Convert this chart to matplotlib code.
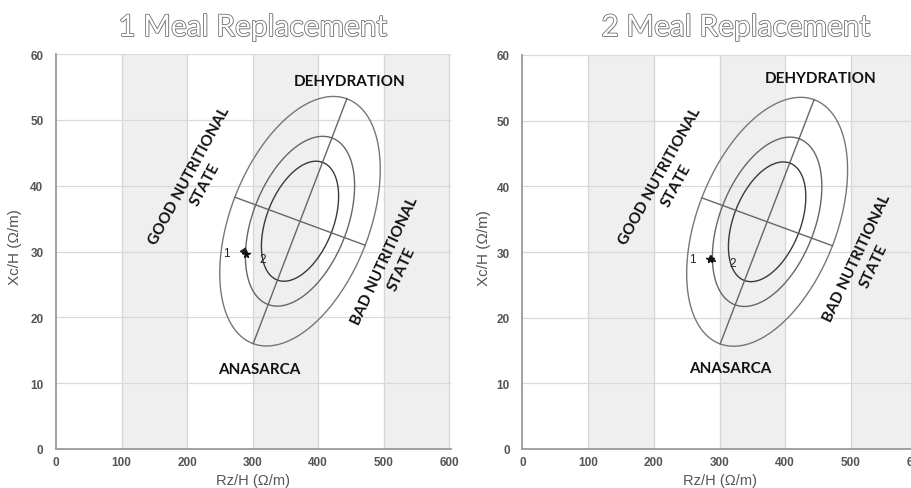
import numpy as np
import matplotlib
matplotlib.use("Agg")
import matplotlib.pyplot as plt
from matplotlib import patheffects as pe

# ---------------- data ----------------
panel_titles = ["1 Meal Replacement", "2 Meal Replacement"]
x_ticks = [0, 100, 200, 300, 400, 500, 600]
y_ticks = [0, 10, 20, 30, 40, 50, 60]
x_label = "Rz/H (\u03a9/m)"
y_label = "Xc/H (\u03a9/m)"

# tolerance ellipses (reference population), data units
ellipse_center = [372.5, 34.6]
major_half = [71.5, 18.6]     # half-diameter along the "hydration" axis (95% ellipse)
minor_half = [99.5, -3.65]    # half-diameter along the "nutrition" axis (95% ellipse)
ellipse_levels = [0.50, 0.75, 0.95]

# patient vectors (point 1 -> point 2)
p1_left = [290.0, 29.6]
p2_left = [292.0, 29.3]
p1_right = [285.4, 29.0]
p2_right = [295.6, 28.5]
point_labels = ["1", "2"]

zone_labels = ["DEHYDRATION", "ANASARCA", "GOOD NUTRITIONAL\nSTATE", "BAD NUTRITIONAL\nSTATE"]

# ---------------- layout ----------------
W, H = 912, 489
fig = plt.figure(figsize=(W / 100, H / 100), dpi=100)
fig.patch.set_facecolor("white")

axes_px = [(56, 450, 395, 395), (522.5, 450, 396, 394)]  # left, bottom(y from top), width, height
xlim = (0, 603)

label_pos = [
    {"DEHYDRATION": (449, 55.9), "ANASARCA": (309.6, 12.2),
     "GOOD": (216, 40.9, 61.5), "BAD": (514.5, 28.0, 65)},
    {"DEHYDRATION": (454, 56.5), "ANASARCA": (315.8, 12.4),
     "GOOD": (221.5, 40.9, 61.0), "BAD": (522.8, 28.5, 64.7)},
]
label_offsets = [((-14.4, 0.5), (11, -2)), ((-13, 0), (11.5, -1))]
ylabel_coords = [(-0.086, 0.515), (-0.080, 0.513)]
title_x_px = [253, 736]

tick_font = dict(family="Liberation Sans", weight="bold", size=8.5, color="#555555")
bold_font = "Lato"


def ellipse_scale(p):
    return np.sqrt(-2 * np.log(1 - p)) / np.sqrt(-2 * np.log(1 - ellipse_levels[-1]))


for i in range(2):
    lx, by, w, h = axes_px[i]
    ax = fig.add_axes([lx / W, (H - by) / H, w / W, h / H])
    ax.set_xlim(*xlim)
    ax.set_ylim(0, 60)

    # alternating bands
    for x0 in (100, 300, 500):
        ax.axvspan(x0, x0 + 100, color="#efefef", zorder=0, lw=0)
    for xv in x_ticks[1:]:
        ax.axvline(xv, color="#d6d6d6", lw=0.9, zorder=0.5)
    for yv in y_ticks[1:]:
        ax.axhline(yv, color="#d9d9d9", lw=0.9, zorder=0.5)

    for s in ("top", "right"):
        ax.spines[s].set_visible(False)
    for s in ("left", "bottom"):
        ax.spines[s].set_color("#9a9a9a")
        ax.spines[s].set_linewidth(1.3)

    ax.set_xticks(x_ticks)
    ax.set_yticks(y_ticks)
    ax.tick_params(length=0, pad=5)
    ax.tick_params(axis="y", pad=9)
    for t in ax.get_xticklabels() + ax.get_yticklabels():
        t.set_fontfamily(tick_font["family"])
        t.set_fontweight(tick_font["weight"])
        t.set_fontsize(tick_font["size"])
        t.set_color(tick_font["color"])
    ax.set_xlabel(x_label, family="Liberation Sans", fontsize=10.5, color="#555555", labelpad=4)
    ax.set_ylabel(y_label, family="Liberation Sans", fontsize=11, color="#555555")
    ax.yaxis.set_label_coords(*ylabel_coords[i])

    # ellipses
    c = np.array(ellipse_center)
    a = np.array(major_half)
    b = np.array(minor_half)
    t = np.linspace(0, 2 * np.pi, 400)
    colors = ["#3a3a3a", "#666666", "#777777"]
    for lev, col in zip(ellipse_levels, colors):
        k = ellipse_scale(lev)
        pts = c[:, None] + k * (np.outer(a, np.cos(t)) + np.outer(b, np.sin(t)))
        ax.plot(pts[0], pts[1], color=col, lw=1.0, zorder=3)
    ax.plot([c[0] - a[0], c[0] + a[0]], [c[1] - a[1], c[1] + a[1]], color="#666666", lw=1.0, zorder=3)
    ax.plot([c[0] - b[0], c[0] + b[0]], [c[1] - b[1], c[1] + b[1]], color="#666666", lw=1.0, zorder=3)

    # zone labels
    lp = label_pos[i]
    fs = 11
    ax.text(*lp["DEHYDRATION"], zone_labels[0], family=bold_font, weight="bold", fontsize=fs,
            ha="center", va="center", color="#111111", zorder=5)
    ax.text(*lp["ANASARCA"], zone_labels[1], family=bold_font, weight="bold", fontsize=fs,
            ha="center", va="center", color="#111111", zorder=5)
    gx, gy, gr = lp["GOOD"]
    ax.text(gx, gy, zone_labels[2], family=bold_font, weight="bold", fontsize=fs,
            ha="center", va="center", ma="center", rotation=gr, rotation_mode="anchor",
            linespacing=1.4, color="#111111", zorder=5)
    bx, byy, br = lp["BAD"]
    ax.text(bx, byy, zone_labels[3], family=bold_font, weight="bold", fontsize=fs,
            ha="center", va="center", ma="center", rotation=br, rotation_mode="anchor",
            linespacing=1.4, color="#111111", zorder=5)

    # patient vector
    p1 = p1_left if i == 0 else p1_right
    p2 = p2_left if i == 0 else p2_right
    ax.annotate("", xy=p2, xytext=p1,
                arrowprops=dict(arrowstyle="-|>,head_length=0.45,head_width=0.22", color="#222222",
                                lw=0.9, shrinkA=0, shrinkB=0), zorder=6)
    ax.plot([p1[0]], [p1[1]], marker="*", color="#111111", markersize=5.5, zorder=7, lw=0)
    o1, o2 = label_offsets[i]
    ax.annotate(point_labels[0], xy=p1, xytext=o1, textcoords="offset points",
                ha="center", va="center", fontsize=8.5, family="Liberation Sans", color="#222222")
    ax.annotate(point_labels[1], xy=p2, xytext=o2, textcoords="offset points",
                ha="center", va="center", fontsize=8.5, family="Liberation Sans", color="#222222")

    # outlined title
    fig.text(title_x_px[i] / W, 1 - 28 / H, panel_titles[i], family="Lato", fontsize=21.5,
             ha="center", va="center", color="white",
             path_effects=[pe.withSimplePatchShadow(offset=(0.8, -0.8), shadow_rgbFace="#cccccc", alpha=0.5),
                           pe.Stroke(linewidth=1.1, foreground="#666666"), pe.Normal()])

fig.savefig("out.png", dpi=100, facecolor="white")
